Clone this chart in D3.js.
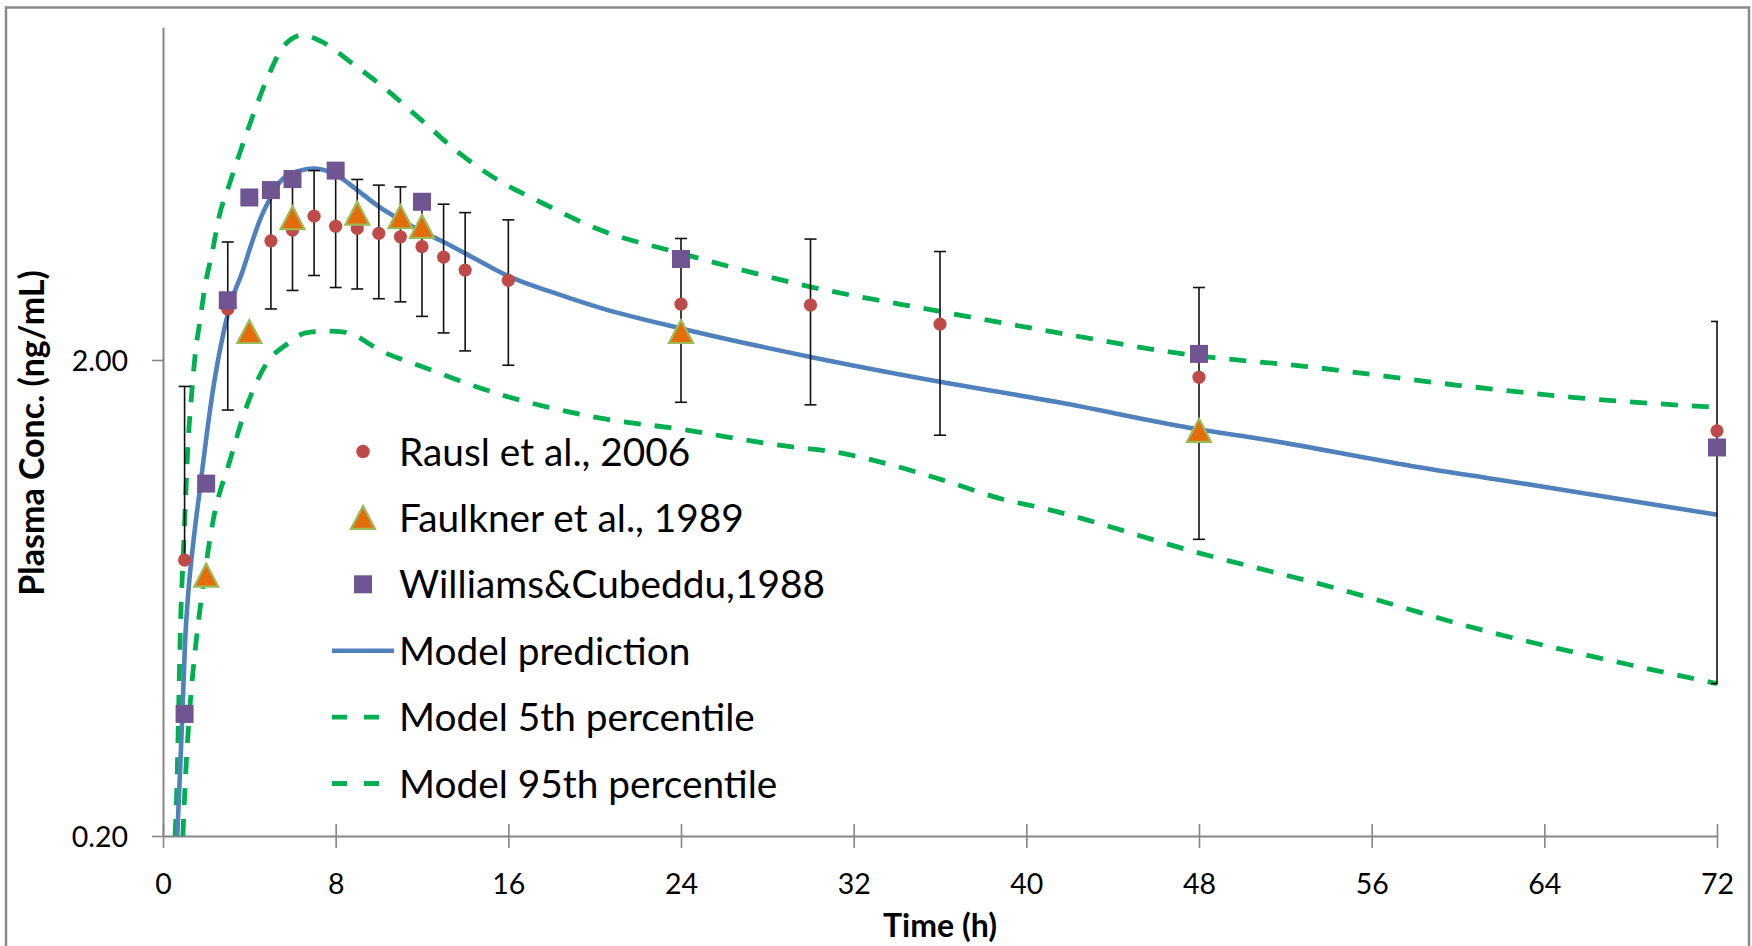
<!DOCTYPE html>
<html><head><meta charset="utf-8">
<script src="https://cdn.jsdelivr.net/npm/d3@7"></script>
<style>
html,body{margin:0;padding:0;background:#fff;}
svg{display:block;}
text{font-family:Lato,"Open Sans",sans-serif;}
</style></head><body>
<svg id="chart" width="1752" height="946"></svg>
<script>
// ---------- DATA ----------
const xTicks = [0, 8, 16, 24, 32, 40, 48, 56, 64, 72];
const yTicks = [0.2, 2];
const yTickLabels = ["0.20", "2.00"];
const xTitle = "Time (h)";
const yTitle = "Plasma Conc. (ng/mL)";
const seriesNames = ["Rausl et al., 2006", "Faulkner et al., 1989", "Williams&Cubeddu,1988",
                     "Model prediction", "Model 5th percentile", "Model 95th percentile"];

// Rausl et al., 2006 (mean with error bars)
const rauslTime  = [1, 3, 5, 6, 7, 8, 9, 10, 11, 12, 13, 14, 16, 24, 30, 36, 48, 72];
const rauslConc  = [0.76, 2.56, 3.56, 3.75, 4.01, 3.82, 3.78, 3.69, 3.63, 3.46, 3.29, 3.09, 2.94, 2.62, 2.61, 2.38, 1.84, 1.42];
const rauslUpper = [1.76, 3.54, 4.51, 4.73, 5.00, 4.95, 4.79, 4.66, 4.62, 4.34, 4.25, 4.08, 3.94, 3.60, 3.59, 3.38, 2.84, 2.41];
const rauslLower = [null, 1.57, 2.56, 2.80, 3.01, 2.84, 2.82, 2.69, 2.65, 2.47, 2.28, 2.09, 1.95, 1.63, 1.61, 1.39, 0.84, 0.418];

// Faulkner et al., 1989
const faulknerTime = [2, 4, 6, 9, 11, 12, 24, 48];
const faulknerConc = [0.705, 2.29, 3.97, 4.06, 3.99, 3.81, 2.29, 1.42];

// Williams & Cubeddu, 1988
const williamsTime = [1, 2, 3, 4, 5, 6, 8, 12, 24, 48, 72];
const williamsConc = [0.361, 1.10, 2.67, 4.39, 4.55, 4.80, 5.00, 4.30, 3.26, 2.06, 1.31];

// Model prediction
const predTime = [0.66, 0.8, 0.91, 1.02, 1.17, 1.4, 1.72, 2.03, 2.41, 2.8, 3.18, 3.65, 4.0, 4.5, 5.0, 5.5, 6.35, 7.0, 8.0, 9.0, 10.0, 11.0, 12.0, 13.0, 14.0, 15.2, 16.0, 18.2, 20.3, 24, 30, 36, 41.5, 47.6, 51.1, 58.2, 63.6, 72];
const predConc = [0.2, 0.28, 0.374, 0.508, 0.647, 0.824, 1.08, 1.40, 1.84, 2.28, 2.67, 3.04, 3.40, 3.95, 4.40, 4.78, 5.0, 5.05, 4.9, 4.55, 4.2, 3.94, 3.72, 3.54, 3.35, 3.13, 3.0, 2.76, 2.57, 2.33, 2.03, 1.80, 1.63, 1.44, 1.36, 1.19, 1.09, 0.946];

// Model 5th percentile
const p5Time = [0.92, 1.05, 1.25, 1.49, 1.79, 2.33, 3.1, 3.88, 4.81, 5.81, 6.6, 7.52, 8.41, 10.19, 11.96, 15.5, 20.26, 24.02, 28.24, 31.6, 33.57, 36.1, 38.9, 40.7, 48.06, 54.3, 61.1, 67.95, 72];
const p5Conc = [0.2, 0.27, 0.374, 0.491, 0.637, 0.923, 1.23, 1.60, 1.97, 2.17, 2.28, 2.30, 2.29, 2.08, 1.94, 1.70, 1.51, 1.43, 1.33, 1.27, 1.21, 1.12, 1.02, 0.978, 0.785, 0.664, 0.542, 0.458, 0.418];

// Model 95th percentile
const p95Time = [0.56, 0.65, 0.72, 0.79, 0.97, 1.17, 1.33, 1.48, 1.72, 1.95, 2.3, 2.6, 3.09, 3.98, 4.87, 5.57, 6.46, 7.35, 8.77, 10.19, 11.96, 13.73, 15.5, 17.28, 20.26, 24, 30, 36, 41.5, 47.6, 52.9, 60, 65.3, 72];
const p95Conc = [0.2, 0.26, 0.36, 0.51, 0.84, 1.36, 1.70, 2.03, 2.43, 2.86, 3.4, 4.0, 4.70, 6.18, 7.88, 9.10, 9.63, 9.33, 8.40, 7.50, 6.39, 5.44, 4.78, 4.34, 3.75, 3.35, 2.85, 2.53, 2.28, 2.05, 1.94, 1.77, 1.67, 1.59];

// ---------- STYLE ----------
const C = {
  axis: "#868686", red: "#BE4B48", orange: "#E46C0A", olive: "#9BBB59",
  purple: "#6F5592", blue: "#4F81BD", green: "#00B050", frame: "#8a8a8a"
};

const svg = d3.select("#chart");
svg.append("rect").attr("width", 1752).attr("height", 946).attr("fill", "#fff");
svg.append("rect").attr("x", 6).attr("y", 7.5).attr("width", 1743).attr("height", 1100)
  .attr("fill", "none").attr("stroke", C.frame).attr("stroke-width", 2.5);

const x = d3.scaleLinear().domain([0, 72]).range([163, 1717]);
const y = d3.scaleLog().domain([0.2, 10]).range([836, 27.3]);

// clip
const defs = svg.append("defs");
defs.append("clipPath").attr("id", "plotClip").append("rect")
  .attr("x", 163).attr("y", 0).attr("width", 1717 - 163 + 1).attr("height", 836);

// axes
const gy = svg.append("g").attr("transform", "translate(163,0)")
  .call(d3.axisLeft(y).tickValues(yTicks).tickFormat((d, i) => yTickLabels[i])
        .tickSize(11).tickSizeOuter(0).tickPadding(24));
const gx = svg.append("g").attr("transform", "translate(0,836)")
  .call(d3.axisBottom(x).tickValues(xTicks).tickSize(12).tickSizeOuter(0).tickPadding(10));
[gx, gy].forEach(g => {
  g.select(".domain").attr("stroke", C.axis).attr("stroke-width", 2);
  g.selectAll(".tick line").attr("stroke", C.axis).attr("stroke-width", 1.6);
  g.selectAll(".tick text").attr("fill", "#000").attr("font-size", 28.5)
    .attr("font-family", "Lato, 'Open Sans', sans-serif");
});
gx.selectAll(".tick line").attr("y1", -12).attr("y2", 12);
gx.selectAll(".tick text").attr("y", 58).attr("dy", "0");
gy.selectAll(".tick text").attr("dy", "0.36em");

// lines
const line = d3.line().x(d => x(d[0])).y(d => y(d[1])).curve(d3.curveMonotoneX);
const lineG = svg.append("g").attr("clip-path", "url(#plotClip)");
const zip = (a, b) => a.map((t, i) => [t, b[i]]);
lineG.append("path").datum(zip(p95Time, p95Conc)).attr("d", line)
  .attr("fill", "none").attr("stroke", C.green).attr("stroke-width", 4.8).attr("stroke-dasharray", "17,14");
lineG.append("path").datum(zip(p5Time, p5Conc)).attr("d", line)
  .attr("fill", "none").attr("stroke", C.green).attr("stroke-width", 4.8).attr("stroke-dasharray", "17,14");
lineG.append("path").datum(zip(predTime, predConc)).attr("d", line)
  .attr("fill", "none").attr("stroke", C.blue).attr("stroke-width", 4.6);

// error bars
const ebG = svg.append("g").attr("clip-path", "url(#plotClip)")
  .attr("stroke", "#111").attr("stroke-width", 1.6);
rauslTime.forEach((t, i) => {
  const cx = x(t);
  const top = y(rauslUpper[i]);
  const mid = y(rauslConc[i]);
  ebG.append("line").attr("x1", cx).attr("x2", cx).attr("y1", top).attr("y2", mid);
  ebG.append("line").attr("x1", cx - 6).attr("x2", cx + 6).attr("y1", top).attr("y2", top);
  if (rauslLower[i] != null) {
    const bot = y(rauslLower[i]);
    ebG.append("line").attr("x1", cx).attr("x2", cx).attr("y1", mid).attr("y2", bot);
    ebG.append("line").attr("x1", cx - 6).attr("x2", cx + 6).attr("y1", bot).attr("y2", bot);
  }
});

// markers
const triPath = "M0,-12 L12,11 L-12,11 Z";
svg.append("g").selectAll("circle").data(zip(rauslTime, rauslConc)).join("circle")
  .attr("cx", d => x(d[0])).attr("cy", d => y(d[1])).attr("r", 6.6).attr("fill", C.red);
svg.append("g").selectAll("path").data(zip(faulknerTime, faulknerConc)).join("path")
  .attr("transform", d => `translate(${x(d[0])},${y(d[1])})`).attr("d", triPath)
  .attr("fill", C.orange).attr("stroke", C.olive).attr("stroke-width", 2.2).attr("stroke-linejoin", "miter");
svg.append("g").selectAll("rect").data(zip(williamsTime, williamsConc)).join("rect")
  .attr("x", d => x(d[0]) - 9).attr("y", d => y(d[1]) - 9).attr("width", 18).attr("height", 18)
  .attr("fill", C.purple);

// legend
const leg = svg.append("g");
const rowY = i => 451.5 + i * 66.4;
const symX = 363;
leg.append("circle").attr("cx", symX).attr("cy", rowY(0)).attr("r", 6.8).attr("fill", C.red);
leg.append("path").attr("transform", `translate(${symX},${rowY(1)})`).attr("d", triPath)
  .attr("fill", C.orange).attr("stroke", C.olive).attr("stroke-width", 2.2);
leg.append("rect").attr("x", symX - 9).attr("y", rowY(2) - 9).attr("width", 18).attr("height", 18).attr("fill", C.purple);
leg.append("line").attr("x1", 332).attr("x2", 394).attr("y1", rowY(3)).attr("y2", rowY(3))
  .attr("stroke", C.blue).attr("stroke-width", 4.6);
[4, 5].forEach(i => leg.append("line").attr("x1", 332).attr("x2", 394).attr("y1", rowY(i)).attr("y2", rowY(i))
  .attr("stroke", C.green).attr("stroke-width", 4.8).attr("stroke-dasharray", "15,17"));
seriesNames.forEach((name, i) => {
  leg.append("text").attr("x", 399).attr("y", rowY(i) + 14).attr("font-size", 38.8)
    .attr("fill", "#000").text(name);
});

// titles
svg.append("text").attr("x", 940).attr("y", 936.5).attr("text-anchor", "middle")
  .attr("font-size", 32).attr("font-weight", 700).attr("fill", "#000").text(xTitle);
svg.append("text").attr("transform", "translate(44,433) rotate(-90)").attr("text-anchor", "middle")
  .attr("font-size", 34).attr("font-weight", 700).attr("fill", "#000").text(yTitle);
</script>
</body></html>
